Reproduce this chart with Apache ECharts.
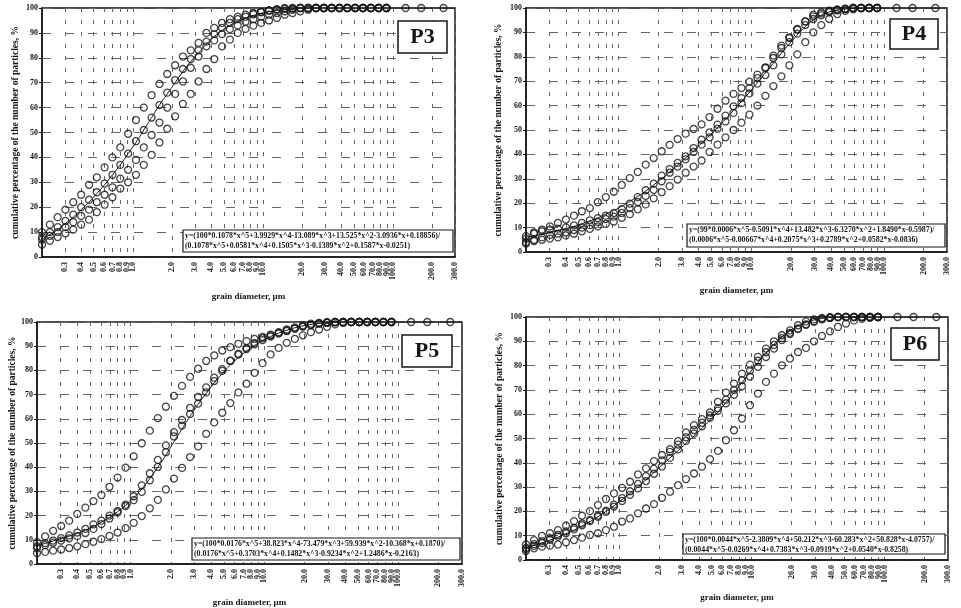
<!DOCTYPE html>
<html lang="en">
<head>
<meta charset="UTF-8">
<title>cumulative grain size curves</title>
<script src="https://cdn.jsdelivr.net/npm/echarts@6/dist/echarts.min.js"></script>
<style>
  html, body { margin: 0; background: #fff; }
  #chart { width: 961px; height: 608px; }
</style>
</head>
<body>
<div id="chart"></div>
<script>
// size classes, µm (shared by all four samples)
const sizes = [0.2, 0.23, 0.264, 0.303, 0.348, 0.4, 0.46, 0.528, 0.606, 0.696,
  0.8, 0.919, 1.056, 1.213, 1.393, 1.6, 1.838, 2.111, 2.425, 2.786,
  3.2, 3.676, 4.222, 4.85, 5.571, 6.4, 7.352, 8.445, 9.701, 11.14,
  12.8, 14.7, 16.89, 19.4, 22.29, 25.6, 29.41, 33.78, 38.8, 44.57,
  51.2, 58.81, 67.56, 77.6, 89.14, 102.4, 117.6, 135.1, 155.2, 178.3,
  204.8, 235.3, 270.2, 300]
const tailSizes = [125, 165, 245]
const tailValues = [100, 100, 100]
const xTicks = [0.3, 0.4, 0.5, 0.6, 0.7, 0.8, 0.9, 1, 2, 3, 4, 5, 6, 7, 8, 9, 10,
  20, 30, 40, 50, 60, 70, 80, 90, 100, 200, 300]

// P3
const p3A = [10, 13, 16, 19, 22, 25, 29, 32, 36, 40, 44, 49.5, 55, 60, 65, 69.5, 73.5, 77, 80.5, 83,
  86, 90, 92, 94, 95.5, 96.5, 97.3, 98, 98.5, 99, 99.3, 99.6, 99.8, 100, 100, 100, 100, 100, 100, 100,
  100, 100, 100, 100, 100]
const p3B = [8, 10, 12, 14.5, 17, 20, 23, 26, 29.5, 33, 37, 41.5, 46.5, 51, 56, 61, 66, 71, 75.5, 79.5,
  83, 86.5, 89.5, 92, 94, 95.5, 96.5, 97.5, 98.3, 99, 99.5, 100, 100, 100, 100, 100, 100, 100, 100, 100,
  100, 100, 100, 100, 100]
const p3C = [7, 8.5, 10, 12, 14, 16.5, 19, 22, 25, 28, 31.5, 35, 39, 44, 49, 54, 60, 65.5, 70.5, 76,
  80.5, 84.6, 87, 89.5, 91.5, 93, 94.5, 95.5, 96.5, 97.3, 98, 98.7, 99.3, 100, 100, 100, 100, 100, 100, 100,
  100, 100, 100, 100, 100]
const p3D = [5, 6.5, 8, 9.5, 11, 13, 15, 18, 21, 24, 27.5, 30, 33, 37, 41, 46, 51.5, 56.5, 61.5, 65.5,
  70.5, 75.5, 79.5, 84.6, 87.3, 90, 91.6, 92.9, 94, 95, 96, 97.3, 98, 98.7, 99.3, 100, 100, 100, 100, 100,
  100, 100, 100, 100, 100]
const p3Fit = [7, 9, 11, 13.5, 16, 19, 22, 25.5, 29, 33, 37, 41.5, 46, 51, 56, 61, 65.5, 70, 74.5, 78.5,
  82, 85.5, 88.5, 91, 93, 94.6, 96, 97, 97.8, 98.5, 99, 99.4, 99.7, 100, 100, 100, 100, 100, 100, 100,
  100, 100, 100, 100, 100, 100, 100, 100, 100, 100, 100, 100, 100, 100]

// P4
const p4A = [6.5, 8, 9.2, 10.5, 11.9, 13.3, 14.9, 16.7, 18, 20.4, 22.5, 24.7, 27.5, 30.3, 32.8, 35.8, 38.5, 41.3, 43.9, 46.3,
  48.5, 50.4, 52.3, 55.3, 58.7, 62, 64.8, 67.2, 69.8, 72.7, 75.7, 80.5, 84.6, 88, 91.4, 94.5, 97.3, 98.2, 98.9, 99.3,
  99.6, 100, 100, 100, 100]
const p4B = [5.5, 7.5, 8.5, 9.2, 9.6, 10.1, 10.9, 11.9, 13, 13.9, 14.9, 16, 17.6, 19.8, 22.5, 25.3, 28, 31.3, 34, 36.5,
  39.2, 42.6, 46, 49, 52.2, 55.9, 59.7, 63.1, 67.2, 71.3, 75.4, 79.5, 83.6, 87.7, 91.1, 94.5, 96.6, 97.7, 98.6, 99.3,
  99.7, 100, 100, 100, 100]
const p4C = [4, 5, 6, 7, 7.5, 8, 9, 10, 11, 12.3, 13.5, 14.5, 16, 18, 20.5, 23, 25.5, 29, 32.5, 35,
  38, 41, 44, 47, 50.5, 53.5, 57, 61, 65, 69, 72.5, 76.5, 81, 86, 89.5, 93, 95.5, 97, 98.3, 99,
  99.5, 100, 100, 100, 100]
const p4D = [3.5, 4.5, 5, 5.5, 6, 6.8, 7.5, 8.5, 9.5, 10.5, 11.5, 12.5, 14, 15.5, 17.5, 19.5, 22, 24.5, 27, 29.7,
  32.5, 35, 37.5, 41, 44, 47, 50, 53, 56.3, 60, 64, 68, 72, 76.5, 81, 86, 90, 93, 95.5, 97.5,
  98.8, 99.5, 100, 100, 100]
const p4Fit = [6, 6.6, 7.3, 8, 8.8, 9.6, 10.5, 11.6, 12.8, 14, 15.5, 17, 18.8, 20.7, 22.8, 25, 27.5, 30, 32.8, 35.6,
  38.5, 41.5, 44.6, 47.8, 51, 54.5, 58, 61.7, 65.5, 69.4, 73.4, 77.4, 81.4, 85.3, 89, 92.3, 95, 97, 98.4, 99.2,
  99.6, 99.8, 99.9, 100, 100, 100, 100, 100, 100, 100, 100, 100, 100, 100]

// P5
const p5A = [9, 11.4, 13.7, 15.7, 17.9, 20.7, 23.3, 26, 28.5, 31.9, 35.7, 39.8, 44.5, 49.9, 55.1, 60.3, 65, 69.5, 73.6, 77.3,
  80.7, 83.9, 86.2, 88.2, 89.6, 91, 92.1, 93, 93.8, 94.8, 95.8, 96.9, 97.8, 98.6, 99.3, 99.6, 99.9, 100, 100, 100,
  100, 100, 100, 100, 100]
const p5B = [7.3, 8.6, 9.7, 10.7, 11.8, 13, 14.5, 16.4, 17.9, 20, 21.9, 23.9, 26.4, 29.8, 34.6, 40.1, 46.2, 52.7, 57.2, 62,
  66.3, 70.9, 75.6, 79.8, 83.9, 86.9, 89.3, 91.4, 93.2, 94.5, 95.5, 96.4, 97.3, 98.1, 98.6, 99.2, 99.6, 99.9, 100, 100,
  100, 100, 100, 100, 100]
const p5C = [6.5, 7.8, 8.8, 9.7, 10.6, 11.5, 12.8, 14.5, 16.5, 18.8, 21.3, 24.5, 28, 32.5, 37.5, 43, 49, 54.5, 59.5, 64.5,
  69, 73, 77, 80.5, 84, 86.5, 88.8, 90.8, 92.5, 94, 95.2, 96.3, 97.3, 98.2, 98.9, 99.5, 99.8, 100, 100, 100,
  100, 100, 100, 100, 100]
const p5D = [4.5, 5, 5.5, 6, 6.6, 7.3, 8.2, 9.2, 10.3, 11.6, 13, 14.8, 17, 19.8, 23, 26.5, 30.8, 35.3, 39.7, 44.2,
  48.6, 53.8, 58.5, 62.5, 66.5, 70.9, 74.5, 79, 83, 86.6, 89.3, 91.4, 93, 94.5, 95.8, 96.9, 98, 99, 99.6, 100,
  100, 100, 100, 100, 100]
const p5Fit = [7.5, 8.5, 9.5, 10.5, 11.5, 12.7, 14, 15.5, 17.3, 19.3, 21.6, 24.2, 27.3, 31, 35.3, 40, 45, 50.5, 55.8, 61,
  66, 70.5, 74.8, 78.7, 82.2, 85.3, 88, 90.3, 92.3, 94, 95.4, 96.6, 97.6, 98.4, 99, 99.4, 99.7, 99.9, 100, 100,
  100, 100, 100, 100, 100, 100, 100, 100, 100, 100, 100, 100, 100, 100]

// P6
const p6A = [6.4, 8.2, 9.9, 11, 12.3, 14.1, 16, 18.2, 20.1, 22.6, 25.1, 27.4, 29.7, 32.2, 35.2, 37.7, 40.7, 43.2, 45.6, 48.9,
  52.5, 55.5, 58, 60.7, 65.1, 68.9, 72.6, 76.7, 80.4, 83.6, 87, 90, 92.5, 94.5, 96.6, 98.2, 99, 99.6, 99.9, 100,
  100, 100, 100, 100, 100]
const p6B = [5, 6.5, 7.8, 9, 10.3, 11.8, 13.3, 15, 16.5, 18.3, 20.3, 22.8, 25.5, 28.3, 31.3, 34.5, 37.5, 41, 44.5, 47.5,
  50.5, 53.5, 56.5, 59.5, 62.5, 66, 70, 74, 78, 82, 85.5, 88.5, 91.3, 93.5, 95.3, 96.8, 98, 99, 99.6, 100,
  100, 100, 100, 100, 100]
const p6C = [3.7, 4.8, 5.5, 5.9, 6.4, 7.3, 8.2, 9.2, 10.3, 11, 12.3, 13.7, 15.8, 17.1, 19.2, 21.2, 23, 25.6, 28.1, 30.8,
  33.3, 35.6, 38.4, 41.5, 44.9, 49.3, 53.4, 58.2, 63.7, 68.5, 73.3, 76.7, 80.1, 82.9, 85.6, 87.3, 90, 92.2, 94.1, 95.9,
  97.3, 98.6, 99.3, 99.7, 100]
const p6D = [4.5, 5.8, 7, 8.3, 9.6, 11, 12.6, 14.3, 16, 17.8, 19.8, 22, 24.3, 26.8, 29.5, 32.5, 35.5, 38.5, 42, 45.5,
  49, 52, 55, 58.5, 61.5, 64.5, 68, 71.5, 75.5, 79.5, 83.5, 87, 90.5, 93, 95, 97, 98.3, 99.2, 99.7, 100,
  100, 100, 100, 100, 100]
const p6Fit = [5, 6, 7, 8.2, 9.4, 10.8, 12.3, 14, 15.8, 17.8, 20, 22.3, 24.8, 27.4, 30.1, 33, 36, 39, 42, 45,
  48, 51, 54.2, 57.5, 61, 64.8, 68.8, 73, 77.2, 81.3, 85.2, 88.7, 91.8, 94.3, 96.3, 97.8, 98.8, 99.4, 99.8, 100,
  100, 100, 100, 100, 100, 100, 100, 100, 100, 100, 100, 100, 100, 100]

const eqP3 = ['y=(100*0.1078*x^5+3.9929*x^4-13.089*x^3+13.525*x^2-3.0936*x+0.18856)/',
  '(0.1078*x^5+0.0581*x^4+0.1505*x^3-0.1389*x^2+0.1587*x-0.0251)']
const eqP4 = ['y=(99*0.0006*x^5-0.5091*x^4+13.482*x^3-6.3270*x^2+1.8490*x-0.5987)/',
  '(0.0006*x^5-0.00667*x^4+0.2075*x^3+0.2789*x^2+0.0582*x-0.0836)']
const eqP5 = ['y=(100*0.0176*x^5+38.823*x^4-73.479*x^3+59.939*x^2-10.368*x+0.1870)/',
  '(0.0176*x^5+0.3703*x^4+0.1482*x^3-0.9234*x^2+1.2486*x-0.2163)']
const eqP6 = ['y=(100*0.0044*x^5-2.3809*x^4+50.212*x^3-60.283*x^2+50.828*x-4.0757)/',
  '(0.0044*x^5-0.0269*x^4+0.7383*x^3-0.0919*x^2+0.0540*x-0.8258)']

const serif = '"Liberation Serif", "DejaVu Serif", serif'
const ink = '#161616'

const panels = [
  { tag: 'P3', grid: { left: 42, top: 8, width: 413, height: 249 }, dots: [p3A, p3B, p3C, p3D], fit: p3Fit, eq: eqP3,
    eqBox: [183, 230, 270, 22], tagBox: [398, 21, 49, 32], yGap: 21, xGap: 35 },
  { tag: 'P4', grid: { left: 526, top: 8, width: 421, height: 244 }, dots: [p4A, p4B, p4C, p4D], fit: p4Fit, eq: eqP4,
    eqBox: [687, 224, 258, 23], tagBox: [890, 19, 48, 30], yGap: 22, xGap: 34 },
  { tag: 'P5', grid: { left: 37, top: 322, width: 425, height: 244 }, dots: [p5A, p5B, p5C, p5D], fit: p5Fit, eq: eqP5,
    eqBox: [192, 538, 268, 22], tagBox: [402, 335, 50, 32], yGap: 16, xGap: 34 },
  { tag: 'P6', grid: { left: 526, top: 317, width: 422, height: 243 }, dots: [p6A, p6B, p6C, p6D], fit: p6Fit, eq: eqP6,
    eqBox: [683, 534, 262, 20], tagBox: [891, 328, 48, 32], yGap: 21, xGap: 33 }
]

const chart = echarts.init(document.getElementById('chart'))

const circleStyle = { color: 'rgba(0,0,0,0)', borderColor: ink, borderWidth: 1.3 }
const series = []
panels.forEach((p, k) => {
  p.dots.forEach(vals => {
    series.push({
      type: 'scatter', xAxisIndex: k, yAxisIndex: k,
      data: vals.map((v, i) => [sizes[i], v]),
      symbol: 'circle', symbolSize: 7, itemStyle: circleStyle
    })
  })
  series.push({
    type: 'scatter', xAxisIndex: k, yAxisIndex: k,
    data: tailValues.map((v, i) => [tailSizes[i], v]),
    symbol: 'circle', symbolSize: 7, itemStyle: circleStyle
  })
  series.push({
    type: 'line', xAxisIndex: k, yAxisIndex: k,
    data: p.fit.map((v, i) => [sizes[i], v]),
    smooth: true, showSymbol: false,
    lineStyle: { color: ink, width: 1 }
  })
})

// equation boxes and sample tags, drawn above the series
const graphic = []
panels.forEach(p => {
  const [ex, ey, ew, eh] = p.eqBox
  graphic.push({
    type: 'group', x: ex, y: ey, z: 100, children: [
      { type: 'rect', z: 100, shape: { x: 0, y: 0, width: ew, height: eh }, style: { fill: '#fff', stroke: ink, lineWidth: 1.2 } },
      { type: 'text', z: 101, x: 2, y: 1.5, style: { text: p.eq.join('\n'), font: 'bold 7.8px ' + serif, fill: ink, lineHeight: 9.8 } }
    ]
  })
  const [tx, ty, tw, th] = p.tagBox
  graphic.push({
    type: 'group', x: tx, y: ty, z: 100, children: [
      { type: 'rect', z: 100, shape: { x: 0, y: 0, width: tw, height: th }, style: { fill: '#fff', stroke: ink, lineWidth: 1.5 } },
      { type: 'text', z: 101, x: tw / 2, y: th / 2, style: { text: p.tag, font: 'bold 22px ' + serif, fill: ink, align: 'center', verticalAlign: 'middle' } }
    ]
  })
})

const option = {
  animation: false,
  backgroundColor: '#fff',
  grid: panels.map(p => Object.assign({ show: true, borderColor: ink, borderWidth: 1.5, backgroundColor: '#fff' }, p.grid)),
  xAxis: panels.map((p, k) => ({
    gridIndex: k, type: 'log', min: 0.2, max: 300,
    name: 'grain diameter, µm', nameLocation: 'middle', nameGap: p.xGap,
    nameTextStyle: { fontFamily: serif, fontWeight: 'bold', fontSize: 9, color: ink },
    axisLine: { show: true, lineStyle: { color: ink, width: 1.5 } },
    axisTick: { show: false, customValues: xTicks },
    axisLabel: {
      customValues: xTicks, rotate: 90, margin: 5,
      formatter: v => Number(v).toFixed(1),
      fontFamily: serif, fontWeight: 'bold', fontSize: 8, color: ink
    },
    splitLine: { show: true, lineStyle: { type: [4, 8], color: '#666', width: 1 } }
  })),
  yAxis: panels.map((p, k) => ({
    gridIndex: k, type: 'value', min: 0, max: 100, interval: 10,
    name: 'cumulative percentage of the number of particles, %', nameLocation: 'middle', nameRotate: 90, nameGap: p.yGap,
    nameTextStyle: { fontFamily: serif, fontWeight: 'bold', fontSize: 9.5, color: ink },
    axisLine: { show: true, lineStyle: { color: ink, width: 1.5 } },
    axisTick: { show: true, length: 3, lineStyle: { color: ink } },
    axisLabel: { margin: 4, fontFamily: serif, fontWeight: 'bold', fontSize: 8, color: ink },
    splitLine: { show: true, lineStyle: { type: [9, 14], color: '#666', width: 1 } }
  })),
  graphic: graphic,
  series: series
}

chart.setOption(option)
</script>
</body>
</html>
